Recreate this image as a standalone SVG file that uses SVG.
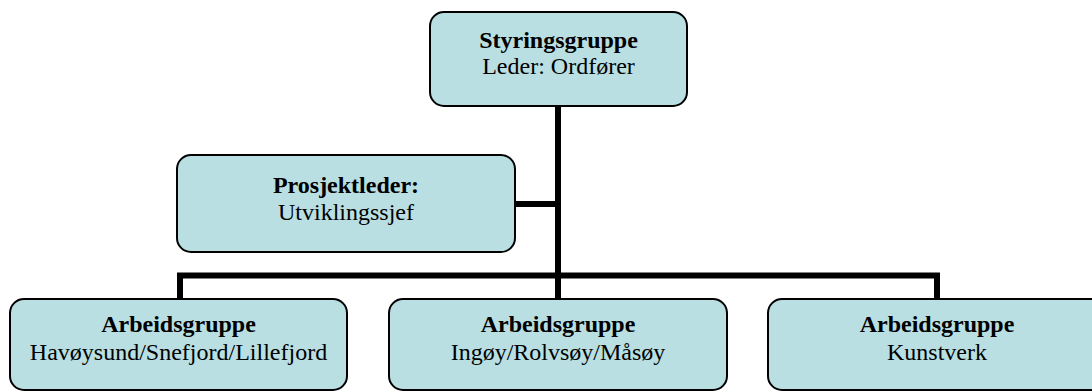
<svg xmlns="http://www.w3.org/2000/svg" width="1092" height="392" viewBox="0 0 1092 392">
<style>
.box{fill:#b9dfe3;stroke:#000;stroke-width:2}
.t{font-family:"Liberation Serif","Times New Roman",serif;font-size:24px;fill:#000;text-anchor:middle}
.b{font-weight:bold}
.c{stroke:#000;stroke-width:6;fill:none}
</style>
<rect width="1092" height="392" fill="#fff"/>
<g id="connectors">
<path class="c" d="M558 106 V299"/>
<path class="c" d="M515 204 H558"/>
<path class="c" d="M180 299 V275.5 H937 V299"/>
</g>
<g id="styringsgruppe">
<rect class="box" x="430" y="12" width="257" height="94" rx="14"/>
<text class="t b" x="558.5" y="48">Styringsgruppe</text>
<text class="t" x="558.5" y="74">Leder: Ordfører</text>
</g>
<g id="prosjektleder">
<rect class="box" x="177" y="155" width="338" height="97" rx="14"/>
<text class="t b" x="346" y="193">Prosjektleder:</text>
<text class="t" x="346" y="220">Utviklingssjef</text>
</g>
<g id="arbeidsgruppe1">
<rect class="box" x="10" y="299" width="337" height="91" rx="14"/>
<text class="t b" x="178.5" y="332">Arbeidsgruppe</text>
<text class="t" x="178.5" y="360">Havøysund/Snefjord/Lillefjord</text>
</g>
<g id="arbeidsgruppe2">
<rect class="box" x="389" y="299" width="338" height="91" rx="14"/>
<text class="t b" x="558" y="332">Arbeidsgruppe</text>
<text class="t" x="558" y="360">Ingøy/Rolvsøy/Måsøy</text>
</g>
<g id="arbeidsgruppe3">
<rect class="box" x="768" y="299" width="338" height="91" rx="14"/>
<text class="t b" x="937" y="332">Arbeidsgruppe</text>
<text class="t" x="937" y="360">Kunstverk</text>
</g>
</svg>
